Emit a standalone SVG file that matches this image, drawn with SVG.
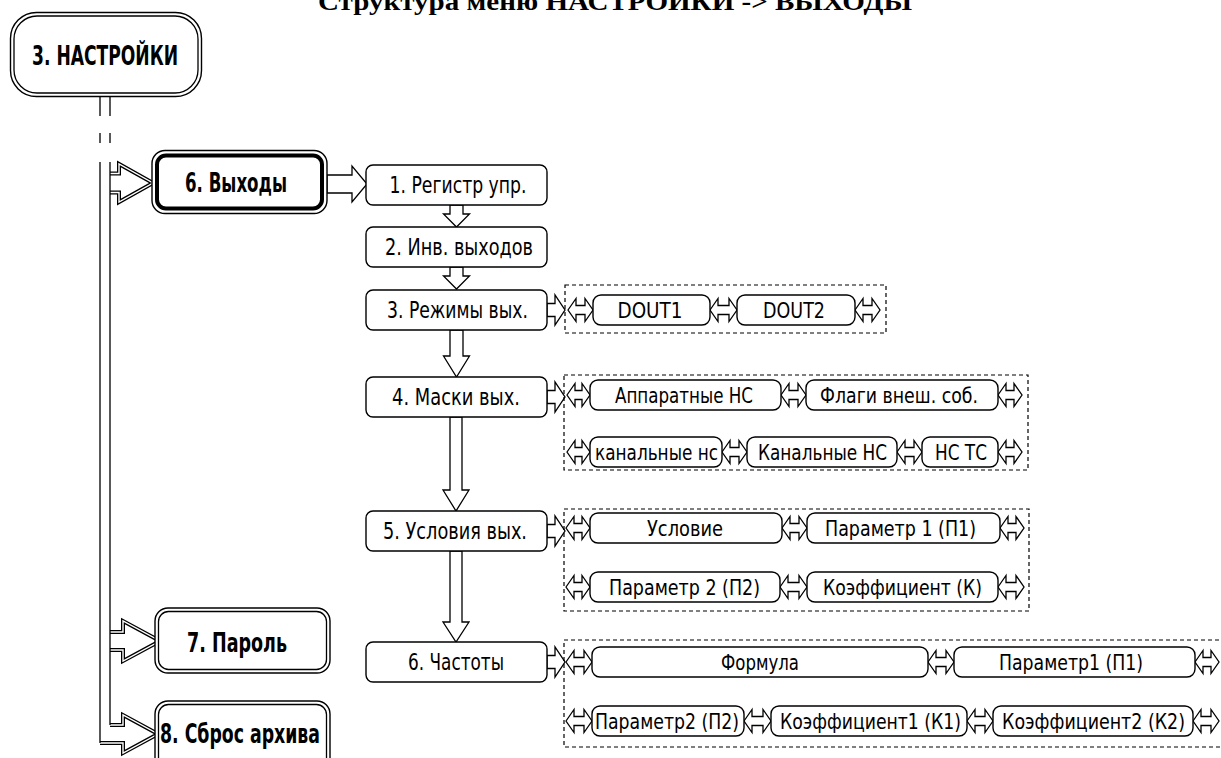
<svg xmlns="http://www.w3.org/2000/svg" width="1221" height="758" viewBox="0 0 1221 758">
<style>
.bg{fill:#fff}
.box{fill:#fff;stroke:#000;stroke-width:1.4}
.dbl{fill:none;stroke:#000;stroke-width:1.3}
.thick{fill:none;stroke:#000;stroke-width:4}
.grp{fill:none;stroke:#000;stroke-width:1.2;stroke-dasharray:4 3}
.ar{fill:#fff;stroke:#000;stroke-width:1.3;stroke-linejoin:miter}
.bar{fill:#fff;stroke:#000;stroke-width:4;stroke-linejoin:miter}
.bar2{fill:none;stroke:#fff;stroke-width:1.4;stroke-linejoin:miter}
.ln{fill:none;stroke:#000;stroke-width:1.3}
.t{font-family:"DejaVu Sans Condensed","DejaVu Sans",sans-serif;font-size:23px;text-anchor:middle;fill:#000}
.s{font-family:"DejaVu Sans Condensed","DejaVu Sans",sans-serif;font-size:22px;text-anchor:middle;fill:#000}
.b{font-family:"DejaVu Sans Condensed","DejaVu Sans",sans-serif;font-size:26px;font-weight:bold;text-anchor:middle;fill:#000}
.title{font-family:"Liberation Serif","Times New Roman",serif;font-size:26px;font-weight:bold;text-anchor:middle;fill:#000}
</style>
<rect class="bg" x="0" y="0" width="1221" height="758"/>
<text class="title" x="615" y="10" textLength="594" lengthAdjust="spacingAndGlyphs">Структура меню НАСТРОЙКИ -&gt; ВЫХОДЫ</text>

<g id="connectors">
  <path class="bar" d="M110,173.5 L119,173.5 L119,164 L153,183 L119,202 L119,192.5 L110,192.5"/>
  <path class="bar2" d="M110,173.5 L119,173.5 L119,164 L153,183 L119,202 L119,192.5 L110,192.5"/>
  <path class="bar" d="M110,632 L123,632 L123,621 L160,641 L123,661 L123,650 L110,650"/>
  <path class="bar2" d="M110,632 L123,632 L123,621 L160,641 L123,661 L123,650 L110,650"/>
  <path class="bar" d="M110,725 L123,725 L123,715 L158,734 L123,753 L123,743 L100,743"/>
  <path class="bar2" d="M110,725 L123,725 L123,715 L158,734 L123,753 L123,743 L100,743"/>
  <path class="ln" d="M100,97 V116 M110,97 V116 M100,133 V143 M110,133 V143 M100,162 V743 M110,162 V725"/>
  <path class="ar" d="M327,175 L352,175 L352,166 L367,184 L352,202 L352,193 L327,193 Z"/>
  <path class="ar" d="M450,205 L463,205 L463,214 L469.5,214 L456.5,227 L443.5,214 L450,214 Z"/>
  <path class="ar" d="M450,267 L463,267 L463,276 L469.5,276 L456.5,289 L443.5,276 L450,276 Z"/>
  <path class="ar" d="M450,330 L463,330 L463,356 L469.5,356 L456.5,377 L443.5,356 L450,356 Z"/>
  <path class="ar" d="M450,417 L462,417 L462,490 L469,490 L456,511 L443,490 L450,490 Z"/>
  <path class="ar" d="M450,551 L462,551 L462,622 L469,622 L456,642 L443,622 L450,622 Z"/>
  <path class="ar" d="M547,303.5 L555,303.5 L555,295 L565,310 L555,325 L555,316.5 L547,316.5 Z"/>
  <path class="ar" d="M547,390.5 L555,390.5 L555,382 L565,397 L555,412 L555,403.5 L547,403.5 Z"/>
  <path class="ar" d="M547,524.5 L555,524.5 L555,516 L565,531 L555,546 L555,537.5 L547,537.5 Z"/>
  <path class="ar" d="M547,655.5 L555,655.5 L555,647 L565,662 L555,677 L555,668.5 L547,668.5 Z"/>
  <path class="ar" d="M568,310 L576,298.5 L576,305.5 L585,305.5 L585,298.5 L593,310 L585,321.5 L585,314.5 L576,314.5 L576,321.5 Z"/>
  <path class="ar" d="M710,310 L718,298.5 L718,305.5 L729,305.5 L729,298.5 L737,310 L729,321.5 L729,314.5 L718,314.5 L718,321.5 Z"/>
  <path class="ar" d="M855,310 L863,298.5 L863,305.5 L872,305.5 L872,298.5 L880,310 L872,321.5 L872,314.5 L863,314.5 L863,321.5 Z"/>
  <path class="ar" d="M567,395 L575,383.5 L575,390.5 L582,390.5 L582,383.5 L590,395 L582,406.5 L582,399.5 L575,399.5 L575,406.5 Z"/>
  <path class="ar" d="M781,395 L789,383.5 L789,390.5 L798,390.5 L798,383.5 L806,395 L798,406.5 L798,399.5 L789,399.5 L789,406.5 Z"/>
  <path class="ar" d="M998,395 L1006,383.5 L1006,390.5 L1014,390.5 L1014,383.5 L1022,395 L1014,406.5 L1014,399.5 L1006,399.5 L1006,406.5 Z"/>
  <path class="ar" d="M567,452 L575,440.5 L575,447.5 L582,447.5 L582,440.5 L590,452 L582,463.5 L582,456.5 L575,456.5 L575,463.5 Z"/>
  <path class="ar" d="M722,452 L730,440.5 L730,447.5 L739,447.5 L739,440.5 L747,452 L739,463.5 L739,456.5 L730,456.5 L730,463.5 Z"/>
  <path class="ar" d="M897,452 L905,440.5 L905,447.5 L914,447.5 L914,440.5 L922,452 L914,463.5 L914,456.5 L905,456.5 L905,463.5 Z"/>
  <path class="ar" d="M998,452 L1006,440.5 L1006,447.5 L1014,447.5 L1014,440.5 L1022,452 L1014,463.5 L1014,456.5 L1006,456.5 L1006,463.5 Z"/>
  <path class="ar" d="M566,528 L574,516.5 L574,523.5 L582,523.5 L582,516.5 L590,528 L582,539.5 L582,532.5 L574,532.5 L574,539.5 Z"/>
  <path class="ar" d="M782,528 L790,516.5 L790,523.5 L799,523.5 L799,516.5 L807,528 L799,539.5 L799,532.5 L790,532.5 L790,539.5 Z"/>
  <path class="ar" d="M1000,528 L1008,516.5 L1008,523.5 L1016,523.5 L1016,516.5 L1024,528 L1016,539.5 L1016,532.5 L1008,532.5 L1008,539.5 Z"/>
  <path class="ar" d="M566,587 L574,575.5 L574,582.5 L582,582.5 L582,575.5 L590,587 L582,598.5 L582,591.5 L574,591.5 L574,598.5 Z"/>
  <path class="ar" d="M780,587 L788,575.5 L788,582.5 L799,582.5 L799,575.5 L807,587 L799,598.5 L799,591.5 L788,591.5 L788,598.5 Z"/>
  <path class="ar" d="M998,587 L1006,575.5 L1006,582.5 L1016,582.5 L1016,575.5 L1024,587 L1016,598.5 L1016,591.5 L1006,591.5 L1006,598.5 Z"/>
  <path class="ar" d="M566,662 L574,650.5 L574,657.5 L584,657.5 L584,650.5 L592,662 L584,673.5 L584,666.5 L574,666.5 L574,673.5 Z"/>
  <path class="ar" d="M928,662 L936,650.5 L936,657.5 L946,657.5 L946,650.5 L954,662 L946,673.5 L946,666.5 L936,666.5 L936,673.5 Z"/>
  <path class="ar" d="M1195,662 L1203,650.5 L1203,657.5 L1211,657.5 L1211,650.5 L1219,662 L1211,673.5 L1211,666.5 L1203,666.5 L1203,673.5 Z"/>
  <path class="ar" d="M566,721 L574,709.5 L574,716.5 L584,716.5 L584,709.5 L592,721 L584,732.5 L584,725.5 L574,725.5 L574,732.5 Z"/>
  <path class="ar" d="M744,721 L752,709.5 L752,716.5 L763,716.5 L763,709.5 L771,721 L763,732.5 L763,725.5 L752,725.5 L752,732.5 Z"/>
  <path class="ar" d="M967,721 L975,709.5 L975,716.5 L985,716.5 L985,709.5 L993,721 L985,732.5 L985,725.5 L975,725.5 L975,732.5 Z"/>
  <path class="ar" d="M1193,721 L1201,709.5 L1201,716.5 L1211,716.5 L1211,709.5 L1219,721 L1211,732.5 L1211,725.5 L1201,725.5 L1201,732.5 Z"/>
</g>

<g id="node-nastroyki">
  <rect class="box" x="10.5" y="12.5" width="191" height="84" rx="26"/>
  <rect class="dbl" x="14" y="16" width="184" height="77" rx="23"/>
  <text class="b" x="105" y="65" textLength="146" lengthAdjust="spacingAndGlyphs">3. НАСТРОЙКИ</text>
</g>
<g id="node-vyhody">
  <rect class="box" x="152" y="150.5" width="175" height="63" rx="13" stroke-width="1.2"/>
  <rect class="thick" x="157" y="155.5" width="165" height="53" rx="9"/>
  <text class="b" x="236" y="192" textLength="102" lengthAdjust="spacingAndGlyphs">6. Выходы</text>
</g>
<g id="node-parol">
  <rect class="box" x="155" y="608" width="175" height="65" rx="13"/>
  <rect class="dbl" x="158.5" y="611.5" width="168" height="58" rx="10"/>
  <text class="b" x="237" y="652" textLength="100" lengthAdjust="spacingAndGlyphs">7. Пароль</text>
</g>
<g id="node-sbros">
  <rect class="box" x="155" y="701" width="175" height="75" rx="13"/>
  <rect class="dbl" x="158.5" y="704.5" width="168" height="68" rx="10"/>
  <text class="b" x="240" y="743" textLength="160" lengthAdjust="spacingAndGlyphs">8. Сброс архива</text>
</g>

<g id="node-1">
  <rect class="box" x="366" y="165" width="181" height="40" rx="7"/>
  <text class="t" x="458" y="193" textLength="137" lengthAdjust="spacingAndGlyphs">1. Регистр упр.</text>
</g>
<g id="node-2">
  <rect class="box" x="366" y="227" width="181" height="40" rx="7"/>
  <text class="t" x="459" y="255" textLength="148" lengthAdjust="spacingAndGlyphs">2. Инв. выходов</text>
</g>
<g id="node-3">
  <rect class="box" x="366" y="290" width="181" height="40" rx="7"/>
  <text class="t" x="457.5" y="318" textLength="141" lengthAdjust="spacingAndGlyphs">3. Режимы вых.</text>
</g>
<g id="node-4">
  <rect class="box" x="366" y="377" width="181" height="40" rx="7"/>
  <text class="t" x="456" y="405" textLength="128" lengthAdjust="spacingAndGlyphs">4. Маски вых.</text>
</g>
<g id="node-5">
  <rect class="box" x="366" y="511" width="181" height="40" rx="7"/>
  <text class="t" x="455" y="539" textLength="144" lengthAdjust="spacingAndGlyphs">5. Условия вых.</text>
</g>
<g id="node-6">
  <rect class="box" x="366" y="642" width="181" height="40" rx="7"/>
  <text class="t" x="456" y="670" textLength="96" lengthAdjust="spacingAndGlyphs">6. Частоты</text>
</g>

<g id="group-rezhimy">
  <rect class="grp" x="565" y="285" width="321" height="48"/>
  <g id="node-dout1">
    <rect class="box" x="593" y="295" width="117" height="30" rx="8"/>
    <text class="s" x="650" y="318" textLength="65" lengthAdjust="spacingAndGlyphs">DOUT1</text>
  </g>
  <g id="node-dout2">
    <rect class="box" x="737" y="295" width="118" height="30" rx="8"/>
    <text class="s" x="794" y="318" textLength="62" lengthAdjust="spacingAndGlyphs">DOUT2</text>
  </g>
</g>

<g id="group-maski">
  <rect class="grp" x="564" y="375" width="464" height="95"/>
  <g id="node-apparatnye">
    <rect class="box" x="590" y="380" width="191" height="30" rx="8"/>
    <text class="s" x="684" y="403" textLength="138" lengthAdjust="spacingAndGlyphs">Аппаратные НС</text>
  </g>
  <g id="node-flagi">
    <rect class="box" x="806" y="380" width="192" height="30" rx="8"/>
    <text class="s" x="899" y="403" textLength="158" lengthAdjust="spacingAndGlyphs">Флаги внеш. соб.</text>
  </g>
  <g id="node-kanal-lower">
    <rect class="box" x="590" y="437" width="132" height="30" rx="8"/>
    <text class="s" x="656.5" y="460" textLength="123" lengthAdjust="spacingAndGlyphs">канальные нс</text>
  </g>
  <g id="node-kanal-upper">
    <rect class="box" x="747" y="437" width="150" height="30" rx="8"/>
    <text class="s" x="822.5" y="460" textLength="129" lengthAdjust="spacingAndGlyphs">Канальные НС</text>
  </g>
  <g id="node-ncts">
    <rect class="box" x="922" y="437" width="76" height="30" rx="8"/>
    <text class="s" x="961" y="460" textLength="52" lengthAdjust="spacingAndGlyphs">НС ТС</text>
  </g>
</g>

<g id="group-usloviya">
  <rect class="grp" x="564" y="509" width="465" height="102"/>
  <g id="node-uslovie">
    <rect class="box" x="590" y="513" width="192" height="30" rx="8"/>
    <text class="s" x="685" y="536" textLength="76" lengthAdjust="spacingAndGlyphs">Условие</text>
  </g>
  <g id="node-param1">
    <rect class="box" x="807" y="513" width="193" height="30" rx="8"/>
    <text class="s" x="900.5" y="536" textLength="151" lengthAdjust="spacingAndGlyphs">Параметр 1 (П1)</text>
  </g>
  <g id="node-param2">
    <rect class="box" x="590" y="572" width="190" height="30" rx="8"/>
    <text class="s" x="684.5" y="595" textLength="151" lengthAdjust="spacingAndGlyphs">Параметр 2 (П2)</text>
  </g>
  <g id="node-koef">
    <rect class="box" x="807" y="572" width="191" height="30" rx="8"/>
    <text class="s" x="902.5" y="595" textLength="159" lengthAdjust="spacingAndGlyphs">Коэффициент (К)</text>
  </g>
</g>

<g id="group-chastoty">
  <rect class="grp" x="564" y="640" width="670" height="107"/>
  <g id="node-formula">
    <rect class="box" x="592" y="647" width="336" height="30" rx="8"/>
    <text class="s" x="760" y="670" textLength="78" lengthAdjust="spacingAndGlyphs">Формула</text>
  </g>
  <g id="node-f-param1">
    <rect class="box" x="954" y="647" width="241" height="30" rx="8"/>
    <text class="s" x="1071" y="670" textLength="144" lengthAdjust="spacingAndGlyphs">Параметр1 (П1)</text>
  </g>
  <g id="node-f-param2">
    <rect class="box" x="592" y="706" width="152" height="30" rx="8"/>
    <text class="s" x="667" y="729" textLength="144" lengthAdjust="spacingAndGlyphs">Параметр2 (П2)</text>
  </g>
  <g id="node-f-koef1">
    <rect class="box" x="771" y="706" width="196" height="30" rx="8"/>
    <text class="s" x="870.5" y="729" textLength="181" lengthAdjust="spacingAndGlyphs">Коэффициент1 (К1)</text>
  </g>
  <g id="node-f-koef2">
    <rect class="box" x="993" y="706" width="200" height="30" rx="8"/>
    <text class="s" x="1093.5" y="729" textLength="183" lengthAdjust="spacingAndGlyphs">Коэффициент2 (К2)</text>
  </g>
</g>
</svg>
